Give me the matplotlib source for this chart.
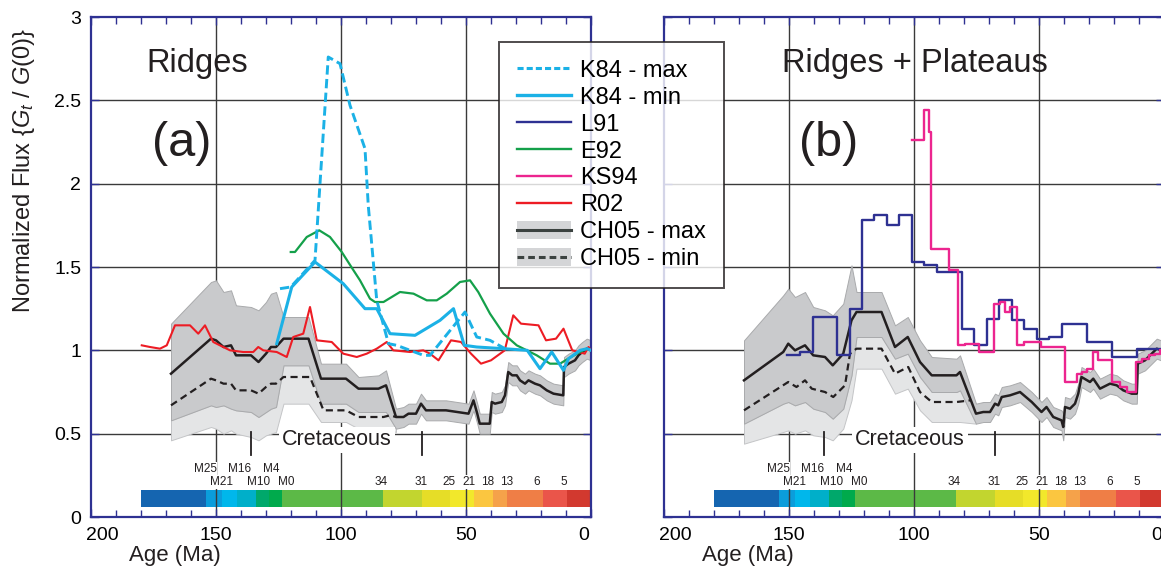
import numpy as np
import matplotlib
matplotlib.use("Agg")
import matplotlib.pyplot as plt
from matplotlib.lines import Line2D
from matplotlib.patches import Patch
from matplotlib.transforms import ScaledTranslation

# ---- values: age (Ma), normalized flux ----

# panel (a) - ridges
k84max_age = [124.4, 120.1, 110.4, 105.1, 100.4, 96.4, 90.4, 89.1, 85.7, 81, 77.7, 67, 64.4, 50.4, 45.7, 40.4, 34.4]
k84max_val = [1.37, 1.38, 1.54, 2.76, 2.72, 2.47, 2.21, 1.87, 1.30, 1.04, 1.03, 0.97, 0.97, 1.23, 1.08, 1.06, 1.01]

k84min_age = [125.7, 119.7, 110.4, 99.1, 90.4, 85.7, 80.4, 70.4, 60.4, 55, 50.7, 45.7, 35, 25.5, 20.4, 15.7, 11, 9, 4.4, 1.5, 0]
k84min_val = [1.04, 1.38, 1.53, 1.40, 1.25, 1.25, 1.10, 1.09, 1.18, 1.25, 1.03, 1.02, 1.01, 1.0, 0.89, 0.99, 0.88, 0.95, 1.0, 1.01, 1.0]

e92_age = [120.1, 118.4, 113.7, 108.7, 104.4, 99.7, 95, 92.4, 88.4, 86.4, 83, 76.4, 71, 65.7, 61.7, 57.7, 52.4,
           48.4, 45.1, 40.4, 35, 29.7, 21.7, 16.4, 12.4, 9.1, 4.4, 1.7, 0]
e92_val = [1.59, 1.59, 1.68, 1.72, 1.68, 1.59, 1.48, 1.42, 1.31, 1.29, 1.29, 1.35, 1.34, 1.30, 1.30, 1.34, 1.41,
           1.42, 1.35, 1.22, 1.10, 1.03, 0.97, 0.92, 0.92, 0.95, 0.99, 1.01, 1.0]

r02_age = [179.7, 176.4, 172.4, 169.7, 166.4, 160.4, 157.1, 154.4, 151.1, 147.1, 144.4, 139.1, 135.1, 133.1, 131.1,
           125.7, 121.7, 119.1, 115.1, 112.4, 109.7, 103.7, 99.1, 93.7, 89.7, 85.7, 81.7, 79.1, 72.4, 67.1, 64.4,
           61, 56, 52, 48, 44, 40, 34.5, 31.1, 28, 21, 18, 14, 11, 7.5, 2.5, 1, 0]
r02_val = [1.03, 1.02, 1.01, 1.03, 1.15, 1.15, 1.10, 1.15, 1.05, 1.02, 1.00, 0.99, 0.99, 1.02, 1.00,
           0.99, 0.96, 1.08, 1.10, 1.26, 1.06, 1.05, 0.98, 0.96, 0.98, 1.01, 1.05, 1.00, 0.99, 1.00, 0.98,
           0.94, 1.06, 1.05, 0.98, 0.92, 0.94, 1.0, 1.21, 1.16, 1.15, 1.06, 1.07, 1.13, 1.0, 0.98, 1.02, 1.0]

cha_age = [168, 152, 150, 147, 144, 142, 136, 133, 130, 128, 126, 123, 113, 108, 98, 93, 85, 82, 78,
           75, 73, 70, 68, 66, 58, 49, 47, 45.5, 44.5, 40.5, 39.7, 38.4, 35.7, 34.4, 33.1, 31.5, 29.7,
           28.4, 26.4, 25, 22.4, 20.4, 17.7, 15, 11.1, 10.8, 9, 6.4, 5, 3.5, 1.7, 0]
cha_max = [0.86, 1.07, 1.06, 1.02, 1.03, 0.97, 0.97, 0.93, 0.98, 1.02, 1.02, 1.07, 1.07, 0.83, 0.83, 0.77, 0.77, 0.79, 0.60,
           0.60, 0.62, 0.62, 0.68, 0.64, 0.64, 0.62, 0.70, 0.62, 0.56, 0.56, 0.69, 0.68, 0.69, 0.73, 0.87, 0.85, 0.85,
           0.82, 0.80, 0.82, 0.80, 0.79, 0.76, 0.74, 0.73, 0.90, 0.92, 0.94, 0.97, 0.99, 1.01, 1.0]
cha_hi = [1.16, 1.41, 1.42, 1.35, 1.36, 1.27, 1.26, 1.24, 1.29, 1.34, 1.35, 1.20, 1.20, 0.92, 0.92, 0.84, 0.85, 0.88, 0.65,
          0.66, 0.68, 0.68, 0.74, 0.70, 0.70, 0.68, 0.76, 0.68, 0.62, 0.62, 0.75, 0.74, 0.75, 0.79, 0.93, 0.91, 0.91,
          0.88, 0.86, 0.88, 0.86, 0.85, 0.82, 0.80, 0.79, 0.96, 0.98, 1.00, 1.03, 1.05, 1.07, 1.06]
cha_mid = [0.58, 0.67, 0.66, 0.67, 0.65, 0.64, 0.63, 0.60, 0.63, 0.65, 0.66, 0.91, 0.91, 0.68, 0.68, 0.63, 0.63, 0.63, 0.53,
           0.54, 0.56, 0.56, 0.62, 0.58, 0.58, 0.56, 0.64, 0.56, 0.50, 0.50, 0.63, 0.62, 0.63, 0.67, 0.81, 0.79, 0.79,
           0.76, 0.74, 0.76, 0.74, 0.73, 0.70, 0.68, 0.67, 0.84, 0.86, 0.88, 0.91, 0.93, 0.95, 0.94]
cha_lo = [0.46, 0.54, 0.53, 0.50, 0.52, 0.50, 0.48, 0.46, 0.49, 0.50, 0.51, 0.68, 0.68, 0.57, 0.57, 0.53, 0.53, 0.53, 0.51]
cha_min_age = [168, 152, 150, 147, 144, 142, 136, 133, 130, 128, 126, 123, 112.4, 107, 98, 93, 83, 80.4, 78]
cha_min = [0.67, 0.83, 0.82, 0.80, 0.80, 0.76, 0.76, 0.74, 0.78, 0.80, 0.80, 0.84, 0.84, 0.64, 0.64, 0.60, 0.60, 0.61, 0.60]

# panel (b) - ridges + plateaus (step histories: left edge of each step, value)
l91_edge = [151, 145.6, 140.5, 131, 125.6, 120.8, 116, 111, 106, 101, 96, 91, 81, 76, 71, 66, 61, 56, 51, 46, 41, 31, 21, 11, 0]
l91_val = [0.97, 0.99, 1.20, 0.97, 1.25, 1.78, 1.81, 1.75, 1.81, 1.53, 1.51, 1.47, 1.13, 1.03, 1.19, 1.30, 1.18, 1.13,
           1.07, 1.08, 1.16, 1.05, 0.96, 1.01, 1.01]

ks94_edge = [101, 96, 94, 93.2, 86, 82.5, 79.5, 74, 68.2, 65.5, 63.5, 61.5, 59, 56, 49.3, 39.6, 35, 33, 31, 28.3,
             26.3, 21, 17.6, 15, 11.2, 9, 6, 3.5, 1.5, 0]
ks94_val = [2.26, 2.44, 2.31, 1.61, 1.48, 1.03, 1.04, 0.99, 1.28, 1.29, 1.23, 1.26, 1.03, 1.05, 1.02, 0.81, 0.86, 0.87,
            0.89, 0.99, 0.94, 0.81, 0.78, 0.75, 0.93, 0.95, 0.97, 0.98, 1.00, 1.00]

chb_age = [168, 152.3, 150.3, 147.6, 143.6, 140.3, 135.6, 132.5, 128.3, 125, 123, 113, 107.6, 102.5, 97.6, 92.9, 83, 81.6,
           75.2, 72.3, 69.6, 67.6, 66.3, 64.9, 61.6, 57.6, 52.9, 49, 47, 44.3, 41, 40.3, 39.6, 37.6, 35.6, 34.3, 33,
           29.6, 28.3, 25.6, 21.6, 18.9, 16.3, 12.9, 10.9, 10.5, 7.6, 4.9, 2.9, 1.2, 0]
chb_max = [0.82, 0.99, 1.04, 1.00, 1.03, 0.97, 0.96, 0.91, 0.98, 1.18, 1.23, 1.23, 1.02, 1.08, 0.93, 0.85, 0.85, 0.87,
           0.62, 0.63, 0.63, 0.68, 0.67, 0.72, 0.73, 0.75, 0.69, 0.63, 0.66, 0.60, 0.58, 0.54, 0.66, 0.65, 0.68, 0.74, 0.84,
           0.81, 0.83, 0.77, 0.80, 0.79, 0.76, 0.74, 0.74, 0.92, 0.94, 0.98, 1.01, 1.0, 1.0]
chb_hi = [1.06, 1.33, 1.37, 1.32, 1.35, 1.26, 1.24, 1.21, 1.28, 1.51, 1.35, 1.35, 1.15, 1.20, 1.06, 0.96, 0.95, 0.97,
          0.68, 0.69, 0.69, 0.74, 0.73, 0.78, 0.79, 0.81, 0.75, 0.69, 0.72, 0.66, 0.64, 0.62, 0.72, 0.71, 0.74, 0.80, 0.90,
          0.87, 0.89, 0.83, 0.86, 0.85, 0.82, 0.80, 0.80, 0.98, 1.00, 1.04, 1.07, 1.06, 1.06]
chb_mid = [0.56, 0.68, 0.69, 0.67, 0.69, 0.65, 0.63, 0.59, 0.65, 0.85, 1.08, 1.08, 0.95, 0.98, 0.84, 0.75, 0.75, 0.76,
           0.56, 0.57, 0.57, 0.62, 0.61, 0.66, 0.67, 0.69, 0.63, 0.57, 0.60, 0.54, 0.52, 0.46, 0.60, 0.59, 0.62, 0.68, 0.78,
           0.75, 0.77, 0.71, 0.74, 0.73, 0.70, 0.68, 0.68, 0.86, 0.88, 0.92, 0.95, 0.94, 0.94]
chb_lo = [0.44, 0.51, 0.52, 0.50, 0.52, 0.49, 0.48, 0.46, 0.53, 0.70, 0.89, 0.89, 0.74, 0.77, 0.64, 0.57, 0.57, 0.57, 0.56]
chb_min_age = [168, 150.3, 147, 143.6, 140.9, 135.6, 132.3, 127.6, 125.6, 123, 113, 107.6, 102.3, 97.6, 92.9, 82.9, 77.5]
chb_min = [0.64, 0.81, 0.78, 0.82, 0.77, 0.75, 0.72, 0.79, 0.98, 1.01, 1.01, 0.86, 0.90, 0.75, 0.69, 0.69, 0.70]

# magnetic anomaly timescale strip
chron_edges = [180, 154, 147.5, 141.5, 134, 129, 123.5, 83.3, 67.7, 56.4, 46.8, 39.3, 33.6, 19.2, 9.6, 0]
chron_colors = ['#1565b0', '#0b9ddb', '#00b7eb', '#00afc9', '#00a86b', '#00aa4c', '#5cb947', '#c2d52f',
                '#e6dd27', '#f2e82b', '#fbc640', '#f5a24a', '#ef7e46', '#ea554a', '#d2392f']
chron_top = [('M25', 154.4), ('M16', 140.4), ('M4', 128)]
chron_low = [('M21', 148), ('M10', 132.8), ('M0', 122), ('34', 84), ('31', 68), ('25', 56.8), ('21', 48.8),
             ('18', 41.2), ('13', 33.6), ('6', 21.6), ('5', 10.8)]
cretaceous_ends = [136, 67.5]

CYAN = '#1bb1e6'
NAVY = '#2e3192'
GREEN = '#14a04a'
MAGENTA = '#ec258f'
RED = '#ed1c24'
BLACK = '#231f20'
DARK = '#c9cacc'
LIGHT = '#e4e5e6'


def setup_axes(ax, show_ylabels):
    ax.set_xlim(200, 0)
    ax.set_ylim(0, 3)
    ax.set_xticks([200, 150, 100, 50, 0])
    ax.set_xticks(np.arange(10, 200, 10), minor=True)
    ax.set_yticks([0, 0.5, 1, 1.5, 2, 2.5, 3])
    ax.set_xticklabels(['200', '150', '100', '50', '0'])
    if show_ylabels:
        ax.set_yticklabels(['0', '0.5', '1', '1.5', '2', '2.5', '3'])
    else:
        ax.set_yticklabels([])
    ax.tick_params(which='both', direction='in', top=True, right=True, color=NAVY, width=1.0,
                   labelsize=14, pad=7)
    ax.tick_params(which='major', length=6)
    ax.tick_params(which='minor', length=5)
    for s in ax.spines.values():
        s.set_color(NAVY)
        s.set_linewidth(1.6)
    for g in [150, 100, 50]:
        ax.axvline(g, color='#3a3a3a', lw=1.0, zorder=1)
    for g in [0.5, 1, 1.5, 2, 2.5]:
        ax.axhline(g, color='#3a3a3a', lw=1.0, zorder=1)
    # nudge the corner labels inward like the original
    labs = ax.get_xticklabels()
    labs[0].set_transform(labs[0].get_transform() + ScaledTranslation(8 / 72, 0, ax.figure.dpi_scale_trans))
    labs[-1].set_transform(labs[-1].get_transform() + ScaledTranslation(-5 / 72, 0, ax.figure.dpi_scale_trans))


def draw_timescale(ax):
    left = np.array(chron_edges[1:])
    width = np.array(chron_edges[:-1]) - left
    ax.barh(0.111, width, left=left, height=0.102, color=chron_colors, zorder=0.5)
    box = dict(facecolor='white', edgecolor='none', pad=0.5)
    for name, age in chron_top:
        ax.text(age, 0.288, name, ha='center', va='center', fontsize=8.5, color='#231f20', bbox=box, zorder=6)
    for name, age in chron_low:
        ax.text(age, 0.21, name, ha='center', va='center', fontsize=8.5, color='#231f20', bbox=box, zorder=6)
    for a in cretaceous_ends:
        ax.plot([a, a], [0.51, 0.372], color=BLACK, lw=1.3, zorder=6)
    ax.text(101.6, 0.463, 'Cretaceous', ha='center', va='center', fontsize=15.5, color='#231f20',
            bbox=dict(facecolor='white', edgecolor='none', pad=2), zorder=5)


def draw_ch05(ax, age, vmax, hi, mid, lo, min_age, vmin):
    n = len(lo)
    ax.fill_between(age[:n], lo, mid[:n], facecolor=LIGHT, edgecolor='#c4c5c7', lw=0.7, zorder=1.5)
    ax.fill_between(age, mid, hi, facecolor=DARK, edgecolor='#a9aaac', lw=0.7, zorder=1.6)
    ax.plot(min_age, vmin, color=BLACK, lw=1.6, ls=(0, (3.2, 2.0)), zorder=3)
    ax.plot(age, vmax, color=BLACK, lw=1.8, zorder=3)


def main():
    plt.rcParams['font.family'] = ['Liberation Sans', 'DejaVu Sans']
    plt.rcParams['mathtext.fontset'] = 'custom'
    plt.rcParams['mathtext.rm'] = 'Liberation Sans'
    plt.rcParams['mathtext.it'] = 'Liberation Sans:italic'

    fig = plt.figure(figsize=(11.61, 5.80), dpi=100)
    ax1 = fig.add_axes([91 / 1161, 63 / 580, 500 / 1161, 500 / 580])
    ax2 = fig.add_axes([664 / 1161, 63 / 580, 500 / 1161, 500 / 580])

    # (a) ridges
    setup_axes(ax1, True)
    draw_timescale(ax1)
    draw_ch05(ax1, cha_age, cha_max, cha_hi, cha_mid, cha_lo, cha_min_age, cha_min)
    ax1.plot(r02_age, r02_val, color=RED, lw=1.5, zorder=4)
    ax1.plot(e92_age, e92_val, color=GREEN, lw=1.6, zorder=4)
    ax1.plot(k84max_age, k84max_val, color=CYAN, lw=2.1, ls=(0, (3.2, 1.5)), zorder=4.2)
    ax1.plot(k84min_age, k84min_val, color=CYAN, lw=2.2, zorder=4.1)
    ax1.text(157.6, 2.72, 'Ridges', ha='center', va='center', fontsize=23.5, color='#231f20')
    ax1.text(163.6, 2.24, '(a)', ha='center', va='center', fontsize=35, color='#231f20')

    # (b) ridges + plateaus
    setup_axes(ax2, False)
    draw_timescale(ax2)
    draw_ch05(ax2, chb_age, chb_max, chb_hi, chb_mid, chb_lo, chb_min_age, chb_min)
    ax2.step(l91_edge, l91_val, where='post', color=NAVY, lw=1.7, zorder=4)
    ax2.step(ks94_edge, ks94_val, where='post', color=MAGENTA, lw=1.7, zorder=4.1)
    ax2.text(99.6, 2.72, 'Ridges + Plateaus', ha='center', va='center', fontsize=23.5, color='#231f20')
    ax2.text(134, 2.24, '(b)', ha='center', va='center', fontsize=35, color='#231f20')

    fig.text(24 / 1161, 1 - 170 / 580, r'Normalized Flux {$G_t$ / $\mathit{G(0)}$}', rotation=90,
             ha='center', va='center', fontsize=17, color='#231f20')
    fig.text(175 / 1161, 1 - 556 / 580, 'Age (Ma)', ha='center', va='center', fontsize=16, color='#231f20')
    fig.text(748 / 1161, 1 - 556 / 580, 'Age (Ma)', ha='center', va='center', fontsize=16, color='#231f20')

    band = '#d4d5d7'
    handles = [
        Line2D([], [], color=CYAN, lw=2.2, ls=(0, (2, 1))),
        Line2D([], [], color=CYAN, lw=2.4),
        Line2D([], [], color=NAVY, lw=1.7),
        Line2D([], [], color=GREEN, lw=1.7),
        Line2D([], [], color=MAGENTA, lw=1.7),
        Line2D([], [], color=RED, lw=1.7),
        (Patch(facecolor=band, edgecolor='none'), Line2D([], [], color='#3b4240', lw=2.2)),
        (Patch(facecolor=band, edgecolor='none'), Line2D([], [], color='#3b4240', lw=2.2, ls=(0, (2.2, 1.3)))),
    ]
    labels = ['K84 - max', 'K84 - min', 'L91', 'E92', 'KS94', 'R02', 'CH05 - max', 'CH05 - min']
    leg = fig.legend(handles, labels, loc='upper left', bbox_to_anchor=(499 / 1161, 1 - 41.7 / 580),
                     frameon=True, fancybox=False, fontsize=17, handlelength=2.3, handleheight=0.8,
                     handletextpad=0.4, labelspacing=0.2, borderpad=0.75, borderaxespad=0)
    leg.get_frame().set_edgecolor('#231f20')
    leg.get_frame().set_linewidth(1.4)
    leg.set_zorder(10)

    fig.savefig('out.png', dpi=100)


if __name__ == '__main__':
    main()
